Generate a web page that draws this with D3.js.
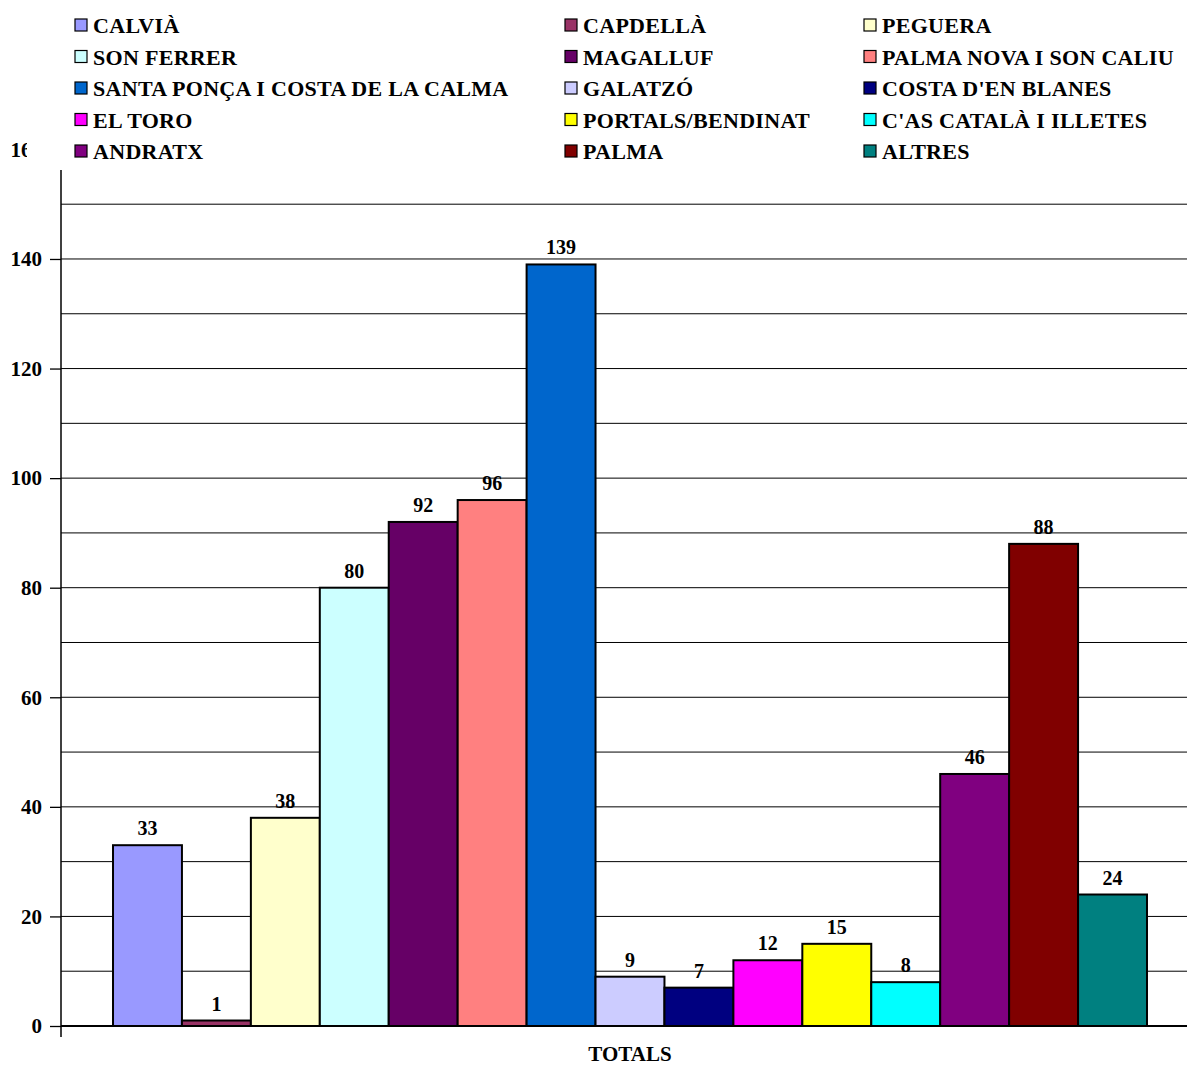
<!DOCTYPE html>
<html>
<head>
<meta charset="utf-8">
<script src="https://cdn.jsdelivr.net/npm/d3@7"></script>
<style>
  body { margin: 0; background: #fff; }
  svg text { font-family: "Liberation Serif", "Times New Roman", serif; font-weight: bold; }
</style>
</head>
<body>
<div id="chart"></div>
<script>
var categories = ["TOTALS"];

var seriesNames = [
  "CALVIÀ", "CAPDELLÀ", "PEGUERA",
  "SON FERRER", "MAGALLUF", "PALMA NOVA I SON CALIU",
  "SANTA PONÇA I COSTA DE LA CALMA", "GALATZÓ", "COSTA D'EN BLANES",
  "EL TORO", "PORTALS/BENDINAT", "C'AS CATALÀ I ILLETES",
  "ANDRATX", "PALMA", "ALTRES"
];

var seriesValues = [33, 1, 38, 80, 92, 96, 139, 9, 7, 12, 15, 8, 46, 88, 24];

var seriesColors = [
  "#9999FF", "#993366", "#FFFFCC",
  "#CCFFFF", "#660066", "#FF8080",
  "#0066CC", "#CCCCFF", "#000080",
  "#FF00FF", "#FFFF00", "#00FFFF",
  "#800080", "#800000", "#008080"
];

var yTicks = [0, 20, 40, 60, 80, 100, 120, 140, 160];
var yGrid = d3.range(0, 161, 10);

var width = 1187, height = 1066;
var plotLeft = 61, plotRight = 1199;

var svg = d3.select("#chart").append("svg")
    .attr("width", width)
    .attr("height", height);

var y = d3.scaleLinear().domain([0, 160]).range([1026, 149.4]);

var x0 = d3.scaleBand().domain(categories)
    .range([plotLeft, plotRight])
    .paddingInner(0).paddingOuter(0.0503);

var x1 = d3.scaleBand().domain(seriesNames)
    .range([0, x0.bandwidth()])
    .padding(0);

// gridlines
svg.append("g").selectAll("line")
    .data(yGrid.filter(function(d) { return d > 0; }))
  .enter().append("line")
    .attr("x1", plotLeft).attr("x2", width)
    .attr("y1", function(d) { return y(d); })
    .attr("y2", function(d) { return y(d); })
    .style("stroke", "#000")
    .style("stroke-width", 1);

// y axis with major ticks
var yAxis = svg.append("g")
    .attr("transform", "translate(" + plotLeft + ",0)")
    .call(d3.axisLeft(y).tickValues(yTicks).tickSize(11).tickPadding(8).tickFormat(d3.format("d")));
yAxis.select(".domain").remove();
yAxis.selectAll(".tick line").style("stroke", "#000").style("stroke-width", 1.3);
yAxis.selectAll("text")
    .style("font-size", "21px")
    .style("fill", "#000")
    .style("font-family", "Liberation Serif")
    .style("font-weight", "bold");

svg.append("line")
    .attr("x1", plotLeft).attr("x2", plotLeft)
    .attr("y1", y(160)).attr("y2", 1037)
    .style("stroke", "#000").style("stroke-width", 1.5);

// bars
var group = svg.append("g")
    .attr("transform", "translate(" + x0(categories[0]) + ",0)");

var rows = seriesNames.map(function(n, i) {
  return { name: n, value: seriesValues[i], color: seriesColors[i] };
});

group.selectAll("rect")
    .data(rows)
  .enter().append("rect")
    .attr("x", function(d) { return x1(d.name); })
    .attr("y", function(d) { return y(d.value); })
    .attr("width", x1.bandwidth())
    .attr("height", function(d) { return y(0) - y(d.value); })
    .style("fill", function(d) { return d.color; })
    .style("stroke", "#000")
    .style("stroke-width", 2);

group.selectAll("text.val")
    .data(rows)
  .enter().append("text")
    .attr("class", "val")
    .attr("x", function(d) { return x1(d.name) + x1.bandwidth() / 2; })
    .attr("y", function(d) { return y(d.value) - 10; })
    .attr("text-anchor", "middle")
    .style("font-size", "20px")
    .text(function(d) { return d.value; });

// baseline
svg.append("line")
    .attr("x1", plotLeft).attr("x2", width)
    .attr("y1", y(0)).attr("y2", y(0))
    .style("stroke", "#000").style("stroke-width", 2);

// category label
svg.append("text")
    .attr("x", x0(categories[0]) + x0.bandwidth() / 2)
    .attr("y", 1061)
    .attr("text-anchor", "middle")
    .style("font-size", "21px")
    .text(categories[0]);

// legend (covers top of plot like the original)
var legend = svg.append("g");
legend.append("rect")
    .attr("x", 27).attr("y", 0)
    .attr("width", width - 27).attr("height", 170)
    .style("fill", "#fff");

var colX = [75, 565, 864];
var rowY = d3.scalePoint().domain(d3.range(5)).range([25, 151]);

var items = legend.selectAll("g.item")
    .data(rows)
  .enter().append("g")
    .attr("class", "item")
    .attr("transform", function(d, i) {
      return "translate(" + colX[i % 3] + "," + rowY(Math.floor(i / 3)) + ")";
    });

items.append("rect")
    .attr("x", 0).attr("y", -6)
    .attr("width", 12).attr("height", 12)
    .style("fill", function(d) { return d.color; })
    .style("stroke", "#000")
    .style("stroke-width", 1.2);

items.append("text")
    .attr("x", 18).attr("y", 8)
    .style("font-size", "22px")
    .style("letter-spacing", "0.3px")
    .text(function(d) { return d.name; });
</script>
</body>
</html>
